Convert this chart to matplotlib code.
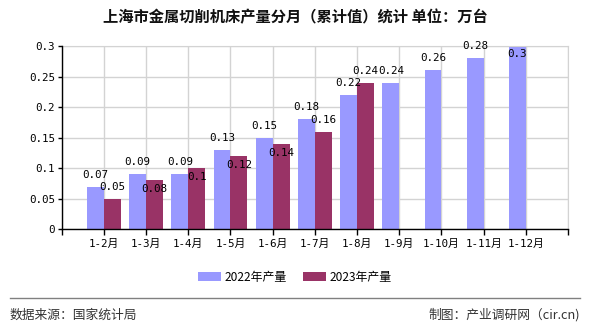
import matplotlib
matplotlib.use("Agg")
import matplotlib.pyplot as plt
from matplotlib.patches import Patch
from matplotlib.lines import Line2D

plt.rcParams['font.family'] = ['Noto Sans CJK SC', 'DejaVu Sans']

title = "上海市金属切削机床产量分月（累计值）统计 单位：万台"
categories = ["1-2月", "1-3月", "1-4月", "1-5月", "1-6月", "1-7月",
              "1-8月", "1-9月", "1-10月", "1-11月", "1-12月"]
values_2022 = [0.07, 0.09, 0.09, 0.13, 0.15, 0.18, 0.22, 0.24, 0.26, 0.28, 0.3]
values_2023 = [0.05, 0.08, 0.1, 0.12, 0.14, 0.16, 0.24]
series_names = ["2022年产量", "2023年产量"]
yticks = [0, 0.05, 0.1, 0.15, 0.2, 0.25, 0.3]
ytick_labels = ["0", "0.05", "0.1", "0.15", "0.2", "0.25", "0.3"]
source_text = "数据来源：国家统计局"
credit_text = "制图：产业调研网（cir.cn)"

c2022 = "#9999ff"
c2023 = "#993366"
num_font = ['DejaVu Sans Mono', 'Noto Sans CJK SC']

W, H = 590, 330
fig = plt.figure(figsize=(W / 100, H / 100), dpi=100)
ax = fig.add_axes([61.7 / W, 1 - 229.3 / H, (568 - 61.7) / W, (229.3 - 46) / H])

bw = 0.4
x22 = list(range(len(values_2022)))
x23 = list(range(len(values_2023)))
ax.bar([x - bw / 2 for x in x22], values_2022, width=bw, color=c2022, zorder=2)
ax.bar([x + bw / 2 for x in x23], values_2023, width=bw, color=c2023, zorder=2)

ax.set_xlim(-1, len(categories))
ax.set_ylim(0, 0.3)
fig.canvas.draw()


def ypix(v):
    return ax.transData.transform((0, v))[1]


def put(x, v, off):
    ax.annotate(f"{v:g}", (x, v), xytext=(0, off), textcoords='offset pixels',
                ha='center', va='center', fontsize=7.8, family=num_font, zorder=4)


# 2022 labels sit above the bar, or just inside it when the bar reaches the top
ymax = ax.get_ylim()[1]
label22 = {}
for x, v in zip(x22, values_2022):
    off = 12 if v < ymax else -8
    put(x - bw / 2, v, off)
    label22[x] = ypix(v) + off

# 2023 labels go above, unless that would collide with the neighbouring 2022 label
for x, v in zip(x23, values_2023):
    above = ypix(v) + 12
    off = 12 if abs(above - label22[x]) >= 11 else -9
    put(x + bw / 2, v, off)

ax.set_yticks(yticks)
ax.set_yticklabels(ytick_labels, family=num_font, fontsize=7.8)
ax.set_xticks(list(range(-1, len(categories) + 1)))
ax.set_xticklabels([""] + categories + [""], family=num_font, fontsize=7.8)
ax.tick_params(axis='x', length=4, width=1, pad=3, color='black')
ax.tick_params(axis='y', length=3, width=1, pad=2, color='black')

ax.grid(True, color='#d3d3d3', linewidth=1, zorder=0)
ax.set_axisbelow(True)
for s in ['top', 'right']:
    ax.spines[s].set_color('#d3d3d3')
for s in ['left', 'bottom']:
    ax.spines[s].set_color('black')
    ax.spines[s].set_linewidth(1)
    ax.spines[s].set_zorder(3)

fig.text(0.5, 1 - 17 / H, title, ha='center', va='center', fontsize=11,
         fontweight='bold', color='#111111')

handles = [Patch(facecolor=c2022), Patch(facecolor=c2023)]
fig.legend(handles, series_names, loc='center', bbox_to_anchor=(295 / W, 1 - 277 / H),
           ncol=2, frameon=False, fontsize=8.6, handlelength=1.9, handleheight=0.8,
           handletextpad=0.3, columnspacing=1.4)

fig.add_artist(Line2D([10 / W, 580 / W], [1 - 298 / H] * 2, color='#808080',
                      linewidth=1))
fig.text(10 / W, 1 - 315 / H, source_text, ha='left', va='center', fontsize=9.2,
         color='#333333')
fig.text(580 / W, 1 - 315 / H, credit_text, ha='right', va='center', fontsize=9.2,
         color='#333333')

fig.savefig("out.png", dpi=100)
